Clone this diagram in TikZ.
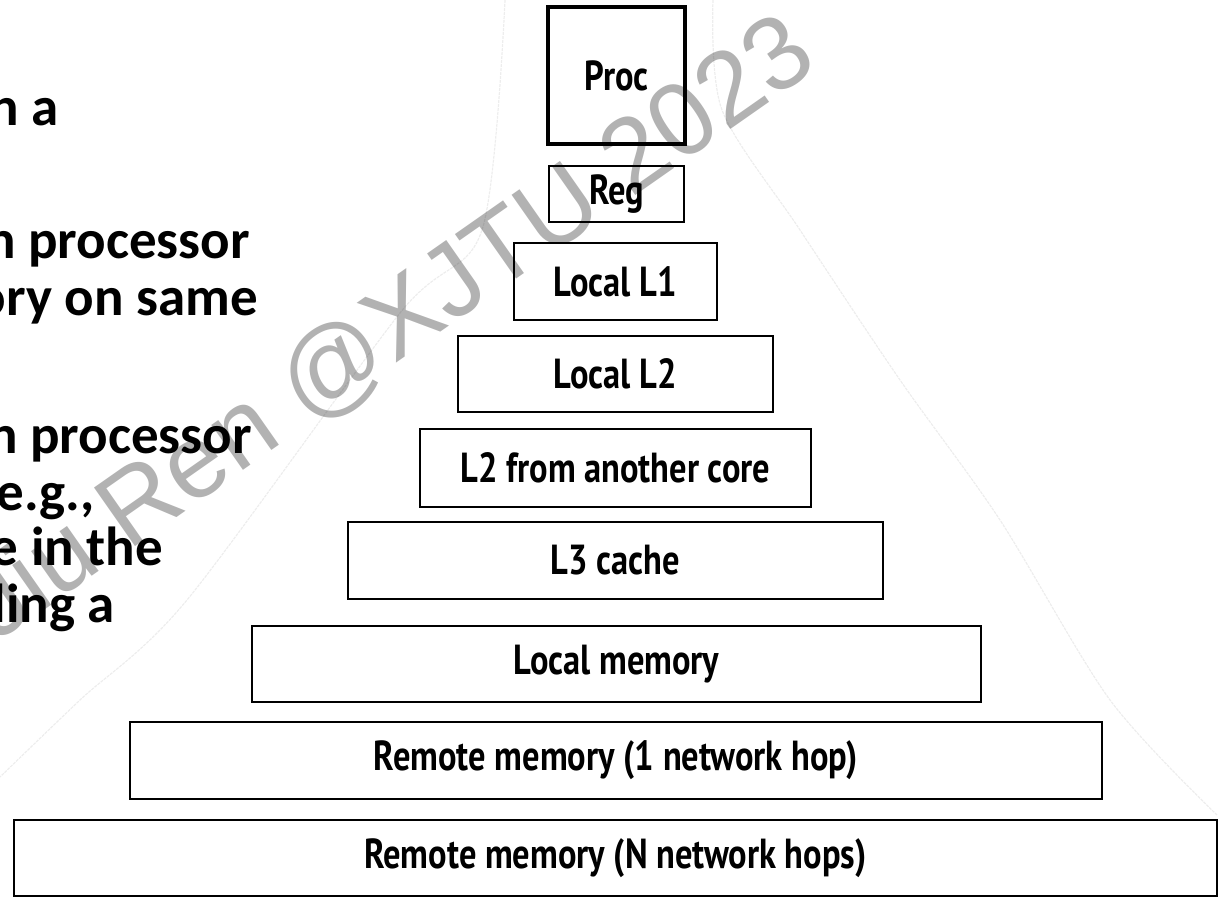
\documentclass[tikz,border=0pt]{standalone}
\usepackage{fontspec}
\setmainfont{Carlito}
\newfontfamily\boxfont[FakeStretch=0.82]{PT Sans}
\newfontfamily\wmfont{Liberation Sans}
\begin{document}
\begin{tikzpicture}[x=1pt,y=-1pt,
  lvl/.style={draw=black, line width=2.5pt, fill=none, inner sep=0pt,
    font=\boxfont\bfseries\fontsize{42}{46}\selectfont},
  lefttxt/.style={anchor=base east, inner sep=0pt,
    font=\bfseries\fontsize{55}{60}\selectfont},
  faint/.style={draw=black!7, line width=1.2pt, dash pattern=on 3pt off 1pt}]
\useasboundingbox (0,0) rectangle (1221,897);
% faint background outline
\draw[faint] plot[smooth] coordinates {(505,0) (482,230) (400,313) (187,600) (80,700) (0,777)};
\draw[faint] plot[smooth] coordinates {(713,0) (722,110) (800,230) (900,380) (1000,520) (1110,700) (1217,815)};
% levels
\node[lvl, line width=4pt, minimum width=137, minimum height=137] (proc) at (616.5,75.5) {Proc};
\node[lvl, minimum width=135, minimum height=56] (reg) at (616.5,194) {Reg};
\node[lvl, minimum width=203, minimum height=77] (l1) at (615.5,281.5) {Local L1};
\node[lvl, minimum width=315, minimum height=76] (l2) at (615.5,374) {Local L2};
\node[lvl, minimum width=391, minimum height=78] (l2o) at (615.5,468) {L2 from another core};
\node[lvl, minimum width=535, minimum height=77] (l3) at (615.5,560.5) {L3 cache};
\node[lvl, minimum width=729, minimum height=76] (lm) at (616.5,664) {Local memory};
\node[lvl, minimum width=972, minimum height=77] (r1) at (616,760.5) {Remote memory (1 network hop)};
\node[lvl, minimum width=1203, minimum height=76] (rn) at (615.5,858) {Remote memory (N network hops)};
% watermark
\node[rotate=35, inner sep=0pt, text=black, opacity=0.3,
  font=\wmfont\fontsize{104}{110}\selectfont] (wm) at (391,330) {Jiu Ren @XJTU 2023};
% cut-off text on the left
\begin{scope}
\clip (0,0) rectangle (1221,897);
\node[lefttxt] (t1) at (59,125) {n a};
\node[lefttxt] (t2) at (250,258) {n processor};
\node[lefttxt] (t3) at (258,315) {ory on same};
\node[lefttxt] (t4) at (252,453) {n processor};
\node[lefttxt] (t5) at (95,510) {e.g.,};
\node[lefttxt] (t6) at (163,565) {e in the};
\node[lefttxt] (t7) at (115,622) {ding a};
\end{scope}
\end{tikzpicture}
\end{document}
